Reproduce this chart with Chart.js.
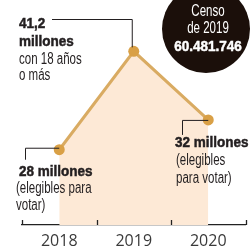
<!DOCTYPE html>
<html>
<head>
<meta charset="utf-8">
<script src="https://cdn.jsdelivr.net/npm/chart.js@4"></script>
<style>
  html, body { margin: 0; padding: 0; background: #fff; }
  #wrap { width: 251px; height: 250px; }
</style>
</head>
<body>
<div id="wrap"><canvas id="chart"></canvas></div>
<script>
// Data
var years = ['2018', '2019', '2020'];
var voters = [28, 41.2, 32];
var noteHead = ['28 millones', '41,2', '32 millones'];
var noteBody = [
    ['(elegibles para', 'votar)'],
    ['millones', 'con 18 años', 'o más'],
    ['(elegibles', 'para votar)']
];
var censusText = ['Censo', 'de 2019', '60.481.746'];

var ink = '#231f20';
var fam = '"Liberation Sans", Arial, sans-serif';

// condensed look: squeeze the text horizontally
function squeezed(ctx, text, x, y, bold, align) {
    const sx = bold ? 0.9 : 0.72;
    ctx.save();
    ctx.font = (bold ? 'bold 15px ' : '16px ') + fam;
    ctx.textAlign = align || 'left';
    ctx.translate(x, y);
    ctx.scale(sx, 1);
    ctx.fillText(text, 0, 0);
    if (bold) {
        // a bit heavier, like the condensed black face
        ctx.strokeStyle = ctx.fillStyle;
        ctx.lineWidth = 0.5;
        ctx.strokeText(text, 0, 0);
    }
    ctx.restore();
}

// Draw tick marks pointing up, the leader lines, notes and census bubble
var notesPlugin = {
    id: 'notes',
    afterDraw: function(chart) {
        const ctx = chart.ctx;
        const area = chart.chartArea;
        const meta = chart.getDatasetMeta(0);
        const pts = meta.data.map(p => ({ x: p.x, y: p.y }));

        ctx.save();
        // axis ticks
        ctx.strokeStyle = '#222';
        ctx.lineWidth = 1.3;
        const step = (area.right - area.left) / years.length;
        for (let i = 0; i <= years.length; i++) {
            const x = Math.round(area.left + i * step) + 0.5;
            ctx.beginPath();
            ctx.moveTo(x, area.bottom);
            ctx.lineTo(x, area.bottom - 5);
            ctx.stroke();
        }

        // leader lines
        ctx.strokeStyle = ink;
        ctx.lineWidth = 1;
        ctx.beginPath();
        ctx.moveTo(pts[0].x, pts[0].y - 1.5);
        ctx.lineTo(25.5, pts[0].y - 1.5);
        ctx.lineTo(25.5, pts[0].y + 10);
        ctx.moveTo(52, 19.5);
        ctx.lineTo(pts[1].x - 1.5, 19.5);
        ctx.lineTo(pts[1].x - 1.5, pts[1].y - 4);
        ctx.moveTo(pts[2].x, pts[2].y + 0.5);
        ctx.lineTo(182.5, pts[2].y + 0.5);
        ctx.lineTo(182.5, pts[2].y + 15);
        ctx.stroke();

        // notes
        ctx.fillStyle = ink;
        ctx.textBaseline = 'alphabetic';
        squeezed(ctx, noteHead[0], 19, 176, true);
        squeezed(ctx, noteHead[1], 19, 28, true);
        squeezed(ctx, noteHead[2], 175, 147, true);
        squeezed(ctx, noteBody[1][0], 19, 46, true);
        squeezed(ctx, noteBody[0][0], 16, 193, false);
        squeezed(ctx, noteBody[0][1], 16, 210, false);
        squeezed(ctx, noteBody[1][1], 19, 64, false);
        squeezed(ctx, noteBody[1][2], 19, 80, false);
        squeezed(ctx, noteBody[2][0], 176, 165, false);
        squeezed(ctx, noteBody[2][1], 176, 183, false);

        // census bubble
        ctx.fillStyle = '#1b0f0a';
        ctx.beginPath();
        ctx.arc(206, 29, 44, 0, Math.PI * 2);
        ctx.fill();
        ctx.fillStyle = '#fff';
        squeezed(ctx, censusText[0], 208, 16, false, 'center');
        squeezed(ctx, censusText[1], 208, 33, false, 'center');
        squeezed(ctx, censusText[2], 208, 51, true, 'center');
        ctx.restore();
    }
};

const ctx = document.getElementById('chart').getContext('2d');
const myChart = new Chart(ctx, {
    type: 'line',
    data: {
        labels: years,
        datasets: [{
            data: voters,
            borderColor: '#d9ab62',
            borderWidth: 3,
            backgroundColor: '#fde9d6',
            fill: 'start',
            tension: 0,
            pointRadius: 5.5,
            pointBackgroundColor: '#d9a046',
            pointBorderWidth: 0
        }]
    },
    options: {
        responsive: true,
        maintainAspectRatio: false,
        animation: false,
        layout: {
            padding: { left: 22, right: 4, top: 0, bottom: -7 }
        },
        plugins: {
            legend: false,
            tooltip: { enabled: false }
        },
        scales: {
            x: {
                offset: true,
                grid: { display: false, drawTicks: false },
                border: { display: true, color: '#222', width: 1.3 },
                ticks: {
                    color: '#3a3a3a',
                    padding: 8,
                    font: { family: '"Open Sans", "Liberation Sans", sans-serif', size: 16, lineHeight: 1 }
                }
            },
            y: {
                display: false,
                min: 17.9,
                max: 47.35
            }
        }
    },
    plugins: [notesPlugin]
});
</script>
</body>
</html>
